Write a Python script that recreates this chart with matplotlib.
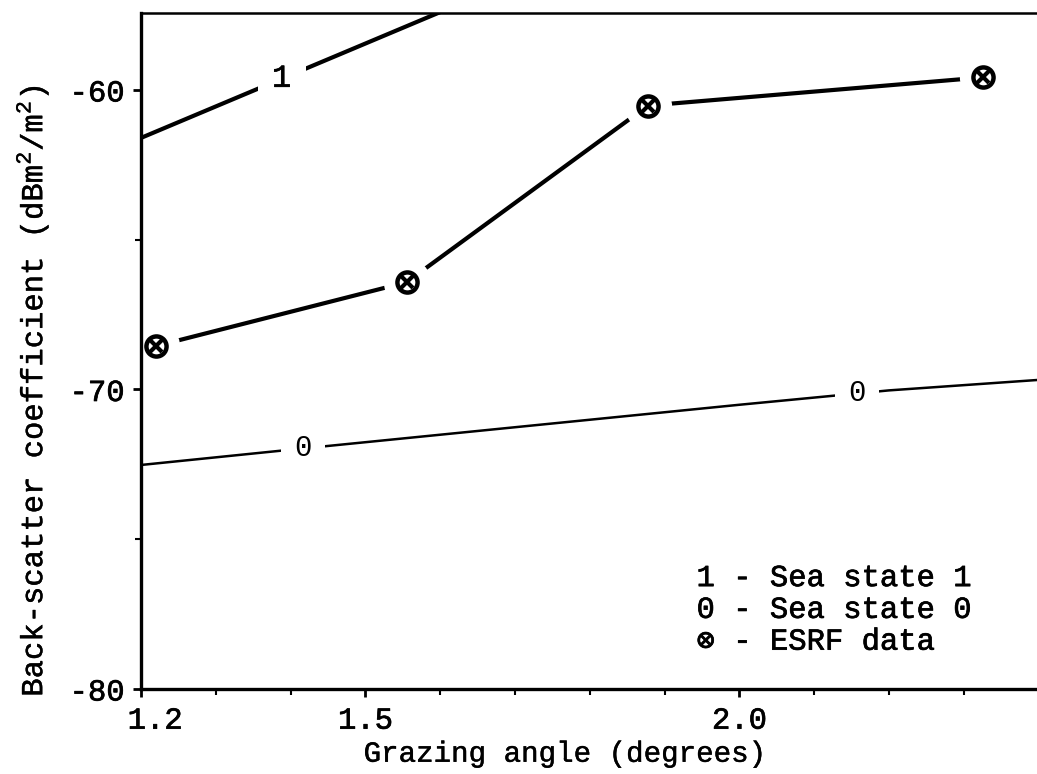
import numpy as np
import matplotlib
matplotlib.use("Agg")
import matplotlib.pyplot as plt
import matplotlib.transforms as mtransforms
import matplotlib.patheffects as pe
from matplotlib.ticker import MultipleLocator, FixedLocator

plt.rcParams["font.family"] = ["Liberation Mono", "DejaVu Sans Mono", "DejaVu Sans"]
plt.rcParams["mathtext.fontset"] = "custom"
plt.rcParams["mathtext.rm"] = "Liberation Mono"
plt.rcParams["axes.unicode_minus"] = False

# ESRF measured points (grazing angle in degrees, back-scatter in dBm^2/m^2)
esrf_angle = [1.22, 1.555, 1.878, 2.326]
esrf_sigma = [-68.55, -66.42, -60.52, -59.58]

# model curves
sea1_angle = [1.2, 1.4, 1.6, 1.7]
sea1_sigma = [-61.6, -59.5, -57.4, -56.35]

sea0_angle = [1.2, 1.4, 1.6, 1.8, 2.0, 2.2, 2.4]
sea0_sigma = [-72.52, -72.01, -71.51, -71.01, -70.51, -70.03, -69.68]

# where the curve numbers sit on the lines
sea1_label_x = [1.388]
sea0_label_x = [1.417, 2.157]

x_ticks = [1.2, 1.5, 2.0]
x_tick_labels = ["1.2", "1.5", "2.0"]
y_ticks = [-80, -70, -60]

legend_lines = ["1 - Sea state 1", "0 - Sea state 0", "\u2297 - ESRF data"]

# typewriter text in the scan is a bit heavier than Liberation Mono regular
ink = [pe.withStroke(linewidth=0.5, foreground="black")]
ink_light = [pe.withStroke(linewidth=0.3, foreground="black")]

fig = plt.figure(figsize=(10.37, 7.74), dpi=100)
ax = fig.add_axes([0.136, 0.1098, 0.864, 0.8738])

ax.plot(sea1_angle, sea1_sigma, color="black", lw=3.0, solid_capstyle="round", zorder=2)
ax.plot(sea0_angle, sea0_sigma, color="black", lw=1.8, zorder=2)
ax.plot(esrf_angle, esrf_sigma, color="black", lw=3.0, solid_capstyle="round", zorder=2)

# white halo so the segments stop short of each marker
ax.plot(esrf_angle, esrf_sigma, ls="none", marker="o", ms=34, mfc="white",
        mec="none", zorder=2.1)
ax.plot(esrf_angle, esrf_sigma, ls="none", marker="o", ms=14.5, mfc="none",
        mec="black", mew=3.2, zorder=3, clip_on=False)
ax.plot(esrf_angle, esrf_sigma, ls="none", marker="x", ms=9, mec="black",
        mew=3.0, zorder=3, clip_on=False)

box = dict(boxstyle="square,pad=0.45", fc="white", ec="none")
for lx in sea1_label_x:
    ax.text(lx, np.interp(lx, sea1_angle, sea1_sigma), "1", fontsize=23,
            ha="center", va="center", bbox=box, zorder=4, path_effects=ink)
for lx in sea0_label_x:
    ax.text(lx, np.interp(lx, sea0_angle, sea0_sigma), "0", fontsize=21,
            ha="center", va="center", bbox=box, zorder=4)

for i, line in enumerate(legend_lines):
    ax.text(0.62, 0.164 - i * 0.047, line, transform=ax.transAxes,
            fontsize=22, ha="left", va="center", path_effects=ink)

ax.set_xlim(1.2, 2.398)
ax.set_ylim(-80, -57.42)

ax.xaxis.set_major_locator(FixedLocator(x_ticks))
ax.set_xticklabels(x_tick_labels)
ax.xaxis.set_minor_locator(MultipleLocator(0.1))
ax.yaxis.set_major_locator(FixedLocator(y_ticks))
ax.yaxis.set_minor_locator(MultipleLocator(5))

ax.tick_params(axis="both", which="major", direction="out", length=6, width=2,
               labelsize=22, pad=6)
ax.tick_params(axis="both", which="minor", direction="out", length=4, width=1.5)

for lab in ax.get_xticklabels() + ax.get_yticklabels():
    lab.set_path_effects(ink)

# the "1.2" label sits a little to the right of its tick
offset = mtransforms.ScaledTranslation(0.14, 0, fig.dpi_scale_trans)
lab = ax.get_xticklabels()[0]
lab.set_transform(lab.get_transform() + offset)

ax.set_xlabel("Grazing angle (degrees)", fontsize=21, path_effects=ink_light)
ax.set_ylabel("Back-scatter coefficient (dBm$^2$/m$^2$)", fontsize=22,
              path_effects=ink_light)
ax.xaxis.set_label_coords(0.473, -0.075)
ax.yaxis.set_label_coords(-0.10, 0.44)

ax.spines["right"].set_visible(False)
ax.spines["left"].set_linewidth(2.4)
ax.spines["bottom"].set_linewidth(2.4)
ax.spines["top"].set_linewidth(1.8)

fig.savefig("out.png", dpi=100, facecolor="white")
